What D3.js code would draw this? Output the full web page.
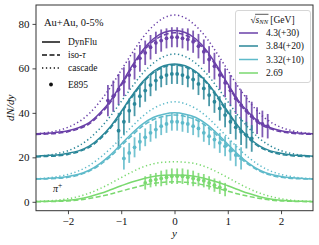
<!DOCTYPE html>
<html>
<head>
<meta charset="utf-8">
<script src="https://cdn.jsdelivr.net/npm/d3@7"></script>
<style>
  body { margin: 0; background: #fff; }
  svg { display: block; }
  text { font-family: "Liberation Serif", "Times New Roman", serif; fill: #111; }
</style>
</head>
<body>
<div id="chart"></div>
<script>
// rapidity grid for the model curves
const rapGrid = [-2.6, -2.4, -2.2, -2.0, -1.8, -1.6, -1.4, -1.2, -1.0, -0.8, -0.6, -0.4, -0.2, 0,
  0.2, 0.4, 0.6, 0.8, 1.0, 1.2, 1.4, 1.6, 1.8, 2.0, 2.2, 2.4, 2.6];

// energies, legend labels, offsets
const energies = ['4.3', '3.84', '3.32', '2.69'];
const energyLabels = ['4.3(+30)', '3.84(+20)', '3.32(+10)', '2.69'];
const offsets = [30, 20, 10, 0];
const colors = ['#6a40a8', '#2b8799', '#5ebaca', '#7ad96f'];

// DynFlu (solid)
const dynflu43 = [0.6, 0.8, 1.3, 2.0, 3.3, 5.6, 9.9, 15.5, 23.0, 31.0, 38.1, 43.2, 46.1, 47.0, 46.1, 43.2, 38.1, 31.0, 23.0, 15.5, 9.9, 5.6, 3.3, 2.0, 1.3, 0.8, 0.6];
const dynflu384 = [0.5, 0.8, 1.1, 1.8, 2.9, 5.0, 8.8, 13.9, 20.6, 27.7, 34.0, 38.6, 41.2, 42.0, 41.2, 38.6, 34.0, 27.7, 20.6, 13.9, 8.8, 5.0, 2.9, 1.8, 1.1, 0.8, 0.5];
const dynflu332 = [0.3, 0.5, 0.8, 1.4, 2.4, 4.2, 7.2, 11.1, 15.9, 20.7, 24.9, 27.9, 29.4, 30.0, 29.4, 27.9, 24.9, 20.7, 15.9, 11.1, 7.2, 4.2, 2.4, 1.4, 0.8, 0.5, 0.3];
const dynflu269 = [0.1, 0.2, 0.4, 0.7, 1.3, 2.3, 3.7, 5.4, 7.2, 8.9, 10.3, 11.4, 11.9, 12.0, 11.9, 11.4, 10.3, 8.9, 7.2, 5.4, 3.7, 2.3, 1.3, 0.7, 0.4, 0.2, 0.1];

// iso-tau (dashed)
const iso43 = [0.3, 0.5, 0.8, 1.5, 2.8, 5.0, 9.2, 14.8, 22.3, 30.3, 37.3, 42.2, 45.0, 46.0, 45.0, 42.2, 37.3, 30.3, 22.3, 14.8, 9.2, 5.0, 2.8, 1.5, 0.8, 0.5, 0.3];
const iso384 = [0.2, 0.4, 0.7, 1.3, 2.5, 4.5, 8.2, 13.2, 19.9, 27.0, 33.4, 38.0, 40.6, 41.5, 40.6, 38.0, 33.4, 27.0, 19.9, 13.2, 8.2, 4.5, 2.5, 1.3, 0.7, 0.4, 0.2];
const iso332 = [0.2, 0.3, 0.5, 1.0, 2.0, 3.8, 6.6, 10.4, 15.1, 19.8, 24.0, 26.9, 28.4, 29.0, 28.4, 26.9, 24.0, 19.8, 15.1, 10.4, 6.6, 3.8, 2.0, 1.0, 0.5, 0.3, 0.2];
const iso269 = [0.0, 0.1, 0.2, 0.4, 0.8, 1.5, 2.4, 3.5, 4.8, 6.1, 7.3, 8.3, 8.8, 9.0, 8.8, 8.3, 7.3, 6.1, 4.8, 3.5, 2.4, 1.5, 0.8, 0.4, 0.2, 0.1, 0.0];

// cascade (dotted)
const casc43 = [0.6, 1.1, 2.0, 3.5, 5.9, 9.7, 15.1, 21.6, 29.2, 36.7, 43.7, 49.1, 52.7, 54.0, 52.7, 49.1, 43.7, 36.7, 29.2, 21.6, 15.1, 9.7, 5.9, 3.5, 2.0, 1.1, 0.6];
const casc384 = [0.5, 0.9, 1.7, 3.0, 5.1, 8.4, 13.0, 18.6, 25.1, 31.6, 37.7, 42.3, 45.3, 46.5, 45.3, 42.3, 37.7, 31.6, 25.1, 18.6, 13.0, 8.4, 5.1, 3.0, 1.7, 0.9, 0.5];
const casc332 = [0.4, 0.7, 1.3, 2.3, 3.9, 6.3, 9.8, 14.0, 18.9, 23.8, 28.4, 31.9, 34.1, 35.0, 34.1, 31.9, 28.4, 23.8, 18.9, 14.0, 9.8, 6.3, 3.9, 2.3, 1.3, 0.7, 0.4];
const casc269 = [0.2, 0.4, 0.7, 1.4, 2.4, 3.9, 5.9, 8.3, 10.9, 13.4, 15.6, 17.1, 17.8, 18.0, 17.8, 17.1, 15.6, 13.4, 10.9, 8.3, 5.9, 3.9, 2.4, 1.4, 0.7, 0.4, 0.2];

// E895 data (without offset)
const e895X43 = [-1.25, -1.15, -1.05, -0.95, -0.85, -0.75, -0.65, -0.55, -0.45, -0.35, -0.25, -0.15, -0.05,
  0.05, 0.15, 0.25, 0.35, 0.45, 0.55, 0.65, 0.75, 0.85, 0.95, 1.05, 1.15, 1.25, 1.35, 1.45, 1.55, 1.65, 1.75];
const e895Y43 = [15.5, 17.5, 20.5, 24, 27, 31, 34.5, 37, 39.5, 41.5, 42.5, 43.5, 44,
  44, 43.5, 43, 42, 40, 37.5, 34, 31, 27, 23.5, 20, 16.5, 13.5, 11, 8.5, 6.5, 5, 4];
const e895E43 = [7, 7, 7, 6.5, 6.5, 6, 6, 5.5, 5.5, 5, 5, 4.5, 4.5,
  4.5, 4.5, 5, 5, 5.5, 5.5, 6, 6, 6.5, 6.5, 7, 7, 7, 7, 6.5, 6, 6, 5.5];

const e895X384 = [-1.05, -0.95, -0.85, -0.75, -0.65, -0.55, -0.45, -0.35, -0.25, -0.15, -0.05,
  0.05, 0.15, 0.25, 0.35, 0.45, 0.55, 0.65, 0.75, 0.85, 0.95, 1.05, 1.15, 1.25, 1.35, 1.45];
const e895Y384 = [12, 16, 21, 24, 27.5, 30, 32.5, 34.5, 36, 37, 37.5,
  37.5, 37, 36, 35, 33, 31, 28, 25, 22, 19, 16, 13.5, 11.5, 10, 8.5];
const e895E384 = [8, 6, 5.5, 5.5, 5, 5, 5, 4.5, 4.5, 4.5, 4.5,
  4.5, 4.5, 4.5, 4.5, 5, 5, 5, 5, 5.5, 5.5, 5.5, 5.5, 6, 6, 6];

const e895X332 = [-0.95, -0.85, -0.75, -0.65, -0.55, -0.45, -0.35, -0.25, -0.15, -0.05,
  0.05, 0.15, 0.25, 0.35, 0.45, 0.55, 0.65, 0.75, 0.85, 0.95, 1.05, 1.15, 1.25];
const e895Y332 = [9.5, 12, 14.5, 17, 19, 21, 22.5, 24, 25, 26,
  26, 25.5, 25, 24, 23, 21, 19.5, 18, 16.5, 15, 13, 11, 9.5];
const e895E332 = [5, 4.5, 4.5, 4, 4, 4, 4, 4, 4, 4,
  4, 4, 4, 4, 4, 4, 4, 4, 4.5, 4.5, 4.5, 5, 5];

const e895X269 = [-0.55, -0.45, -0.35, -0.25, -0.15, -0.05, 0.05, 0.15, 0.25, 0.35, 0.45, 0.55, 0.65, 0.75, 0.85, 0.95];
const e895Y269 = [8.5, 9.5, 10, 10.5, 11, 11.5, 11.5, 11.5, 11, 10.5, 10, 9.5, 8.5, 7.5, 6.5, 5.5];
const e895E269 = [3, 3, 3, 3.5, 3.5, 3.5, 3.5, 3.5, 3.5, 3.5, 3, 3, 3, 3, 3, 3];

const xTicks = [-2, -1, 0, 1, 2];
const yTicks = [0, 20, 40, 60, 80];

const solidSets = [dynflu43, dynflu384, dynflu332, dynflu269];
const dashSets = [iso43, iso384, iso332, iso269];
const dotSets = [casc43, casc384, casc332, casc269];
const dataX = [e895X43, e895X384, e895X332, e895X269];
const dataY = [e895Y43, e895Y384, e895Y332, e895Y269];
const dataE = [e895E43, e895E384, e895E332, e895E269];

const W = 319, H = 245;
const plot = { left: 36, right: 313, top: 5, bottom: 210.7 };

const svg = d3.select('#chart').append('svg').attr('width', W).attr('height', H);

const x = d3.scaleLinear().domain([-2.6, 2.6]).range([plot.left, plot.right]);
const y = d3.scaleLinear().domain([-4, 88.5]).range([plot.bottom, plot.top]);

svg.append('defs').append('clipPath').attr('id', 'clip')
  .append('rect').attr('x', plot.left).attr('y', plot.top)
  .attr('width', plot.right - plot.left).attr('height', plot.bottom - plot.top);

const body = svg.append('g').attr('clip-path', 'url(#clip)');

const line = d3.line().x(d => x(d[0])).y(d => y(d[1])).curve(d3.curveMonotoneX);

const styles = [
  { sets: dotSets, dash: '1.3,2.6' },
  { sets: dashSets, dash: '5,2.5' },
  { sets: solidSets, dash: null }
];

energies.forEach((e, i) => {
  styles.forEach(st => {
    const pts = rapGrid.map((r, k) => [r, st.sets[i][k] + offsets[i]]);
    body.append('path')
      .attr('d', line(pts))
      .attr('fill', 'none')
      .attr('stroke', colors[i])
      .attr('stroke-width', 1.5)
      .attr('stroke-dasharray', st.dash);
  });

  const g = body.append('g');
  dataX[i].forEach((r, k) => {
    const v = dataY[i][k] + offsets[i];
    g.append('line')
      .attr('x1', x(r)).attr('x2', x(r))
      .attr('y1', y(v - dataE[i][k])).attr('y2', y(v + dataE[i][k]))
      .attr('stroke', colors[i]).attr('stroke-width', 1.8).attr('opacity', 0.85);
    g.append('circle')
      .attr('cx', x(r)).attr('cy', y(v)).attr('r', 1.9)
      .attr('fill', colors[i]);
  });
});

// axes
const xAxis = d3.axisBottom(x).tickValues(xTicks).tickSize(3.5).tickPadding(3)
  .tickFormat(d => d < 0 ? '\u2212' + Math.abs(d) : d);
const yAxis = d3.axisLeft(y).tickValues(yTicks).tickSize(3.5).tickPadding(3);

const gx = svg.append('g').attr('transform', `translate(0,${plot.bottom})`).call(xAxis);
const gy = svg.append('g').attr('transform', `translate(${plot.left},0)`).call(yAxis);
[gx, gy].forEach(g => {
  g.select('.domain').remove();
  g.selectAll('.tick line').attr('stroke', '#333').attr('stroke-width', 0.9);
  g.selectAll('.tick text').style('font-size', '11px').style('font-family', '"Liberation Serif", serif').attr('fill', '#111');
});

svg.append('rect')
  .attr('x', plot.left).attr('y', plot.top)
  .attr('width', plot.right - plot.left).attr('height', plot.bottom - plot.top)
  .attr('fill', 'none').attr('stroke', '#333').attr('stroke-width', 1);

// axis labels
svg.append('text').attr('x', x(0)).attr('y', 237)
  .attr('text-anchor', 'middle').style('font-size', '11px').style('font-style', 'italic').text('y');

svg.append('text')
  .attr('transform', `translate(14,${(plot.top + plot.bottom) / 2}) rotate(-90)`)
  .attr('text-anchor', 'middle').style('font-size', '11px').style('font-style', 'italic')
  .text('dN/dy');

// pi+ label
const pi = svg.append('text').attr('x', 53).attr('y', 192).style('font-size', '10px').style('font-style', 'italic');
pi.append('tspan').text('\u03C0');
pi.append('tspan').attr('dy', -4).style('font-size', '7.5px').style('font-style', 'normal').text('+');

// left legend
svg.append('text').attr('x', 44).attr('y', 26).style('font-size', '10.5px').text('Au+Au, 0-5%');

const leftRows = [
  { label: 'DynFlu', dash: null, y: 42 },
  { label: 'iso-', tau: true, dash: '5,2.5', y: 55 },
  { label: 'cascade', dash: '1.3,2.6', y: 68 }
];
leftRows.forEach(r => {
  svg.append('line').attr('x1', 42).attr('x2', 60).attr('y1', r.y).attr('y2', r.y)
    .attr('stroke', '#111').attr('stroke-width', 1.5).attr('stroke-dasharray', r.dash);
  const t = svg.append('text').attr('x', 68).attr('y', r.y + 3).style('font-size', '9.5px').text(r.label);
  if (r.tau) t.append('tspan').style('font-style', 'italic').text('\u03C4');
});
svg.append('circle').attr('cx', 51).attr('cy', 84.5).attr('r', 1.9).attr('fill', '#111');
svg.append('text').attr('x', 68).attr('y', 87.5).style('font-size', '9.5px').text('E895');

// right legend
svg.append('rect').attr('x', 235.5).attr('y', 10.5).attr('width', 75).attr('height', 72).attr('rx', 2.5)
  .attr('fill', '#fff').attr('fill-opacity', 0.8).attr('stroke', '#ccc').attr('stroke-width', 0.8);

const title = svg.append('text').attr('x', 272.5).attr('y', 22.5).attr('text-anchor', 'middle').style('font-size', '9.5px');
title.append('tspan').text('\u221A');
title.append('tspan').style('font-style', 'italic').text('s');
title.append('tspan').attr('dy', 1.8).style('font-style', 'italic').style('font-size', '6.5px').text('NN');
title.append('tspan').attr('dy', -1.8).text(' [GeV]');
const tnode = title.node();
const ox1 = tnode.getStartPositionOfChar(1).x;
const ox2 = tnode.getEndPositionOfChar(3).x;
svg.append('line').attr('x1', ox1 - 0.5).attr('x2', ox2 + 0.5).attr('y1', 14.3).attr('y2', 14.3)
  .attr('stroke', '#111').attr('stroke-width', 0.7);

const rowY = [33, 46, 59.5, 73];
energyLabels.forEach((lab, i) => {
  svg.append('line').attr('x1', 239).attr('x2', 258).attr('y1', rowY[i]).attr('y2', rowY[i])
    .attr('stroke', colors[i]).attr('stroke-width', 1.5);
  svg.append('text').attr('x', 266).attr('y', rowY[i] + 3.3).style('font-size', '9.5px').text(lab);
});
</script>
</body>
</html>
